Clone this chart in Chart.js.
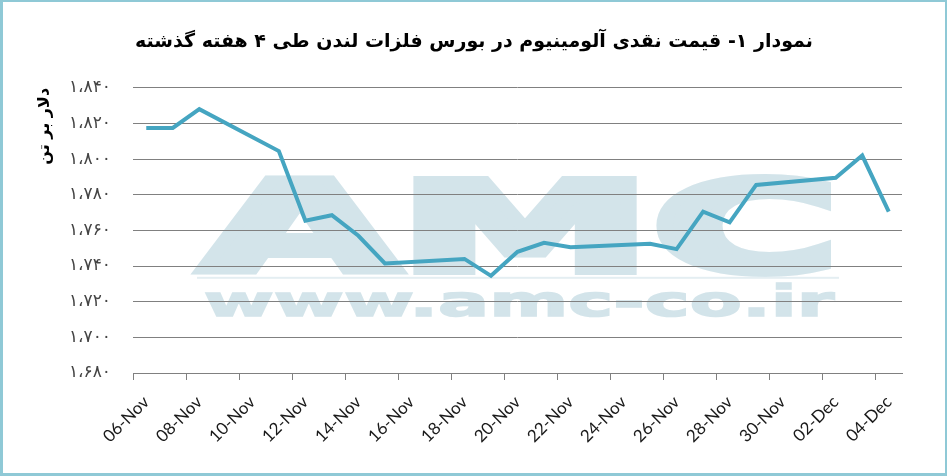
<!DOCTYPE html>
<html>
<head>
<meta charset="utf-8">
<script src="https://cdn.jsdelivr.net/npm/chart.js@4.4.1/dist/chart.umd.min.js"></script>
<style>
  html, body { margin: 0; padding: 0; background: #fff; }
  #wrap {
    width: 947px; height: 476px; box-sizing: border-box;
    border-style: solid; border-color: #8fc9d6;
    border-width: 2px 2px 3px 3px;
    position: relative;
  }
</style>
</head>
<body>
<div id="wrap"><canvas id="myChart"></canvas></div>
<script>
// setup
const days = ['06-Nov', '07-Nov', '08-Nov', '09-Nov', '10-Nov', '11-Nov', '12-Nov', '13-Nov', '14-Nov', '15-Nov',
  '16-Nov', '17-Nov', '18-Nov', '19-Nov', '20-Nov', '21-Nov', '22-Nov', '23-Nov', '24-Nov', '25-Nov',
  '26-Nov', '27-Nov', '28-Nov', '29-Nov', '30-Nov', '01-Dec', '02-Dec', '03-Dec', '04-Dec'];

// cash price, USD per tonne (weekends empty)
const cashPrice = [1817.5, 1817.5, 1828, null, null, 1804.5, 1765.5, 1768.5, 1757, 1741.5,
  null, null, 1744, 1734.5, 1748, 1753, 1750.5, null, null, 1752.5,
  1749.5, 1770.5, 1764.5, 1785.5, null, null, 1789.5, 1802, 1770.5];

const yTickLabels = ['۱،۶۸۰', '۱،۷۰۰', '۱،۷۲۰', '۱،۷۴۰', '۱،۷۶۰', '۱،۷۸۰', '۱،۸۰۰', '۱،۸۲۰', '۱،۸۴۰'];

const chartTitle = 'نمودار ۱- قیمت نقدی آلومینیوم در بورس فلزات لندن طی ۴ هفته گذشته';
const yTitle = 'دلار بر تن';

const gridGray = '#808080';

// draws text stretched to a given width, thickened with a stroke
function wideText(ctx, text, x, y, width, fontSize, stroke) {
  ctx.font = 'bold ' + fontSize + 'px "DejaVu Sans"';
  const w = ctx.measureText(text).width;
  ctx.save();
  ctx.translate(x + stroke / 2, y - stroke / 2);
  ctx.scale((width - stroke) / w, 1);
  ctx.lineWidth = stroke;
  ctx.lineJoin = 'miter';
  ctx.miterLimit = 2.5;
  ctx.fillText(text, 0, 0);
  if (stroke > 0) ctx.strokeText(text, 0, 0);
  ctx.restore();
}

// AMC watermark behind the grid
const watermark = {
  id: 'watermark',
  beforeDraw(chart) {
    const ctx = chart.ctx;
    const ca = chart.chartArea;
    ctx.save();
    ctx.fillStyle = '#d3e4ea';
    ctx.strokeStyle = '#d3e4ea';
    ctx.textBaseline = 'alphabetic';

    wideText(ctx, 'AMC', ca.left + 64, ca.top + 187, 646, 124, 8);

    ctx.fillStyle = '#e4eef2';
    ctx.fillRect(ca.left + 64, ca.top + 189, 642, 2);

    ctx.fillStyle = '#d3e4ea';
    ctx.strokeStyle = '#d3e4ea';
    wideText(ctx, 'www.amc-co.ir', ca.left + 70, ca.top + 229, 632, 43, 1.5);

    ctx.restore();
  }
};

// config
const config = {
  type: 'line',
  data: {
    labels: days,
    datasets: [{
      label: 'قیمت نقدی',
      data: cashPrice,
      borderColor: '#45a5c1',
      borderWidth: 4,
      pointRadius: 0,
      tension: 0,
      spanGaps: true
    }]
  },
  options: {
    responsive: true,
    maintainAspectRatio: false,
    animation: false,
    layout: { padding: 0 },
    plugins: {
      legend: { display: false },
      tooltip: { enabled: false },
      title: {
        display: true,
        text: chartTitle,
        color: '#000',
        font: { family: '"DejaVu Sans"', size: 19, weight: 'bold' },
        padding: { top: 29, bottom: 34 }
      }
    },
    scales: {
      x: {
        offset: true,
        afterFit(s) { s.height = 100; },
        grid: {
          offset: true,
          drawOnChartArea: false,
          drawTicks: true,
          tickLength: 7,
          color: (c) => (c.index % 2 === 0 && c.index < days.length) ? gridGray : 'rgba(0,0,0,0)'
        },
        border: { display: true, color: gridGray, width: 1 },
        ticks: {
          autoSkip: false,
          minRotation: 45,
          maxRotation: 45,
          padding: 12,
          color: '#1a1a1a',
          font: { family: 'Lato', size: 17 },
          callback: (v, i) => (i % 2 === 0 ? days[i] : '')
        }
      },
      y: {
        min: 1680,
        max: 1840,
        afterFit(s) { s.width = 130; },
        grid: { color: gridGray, lineWidth: 1, drawTicks: false },
        border: { display: false },
        ticks: {
          stepSize: 20,
          padding: 22,
          color: '#444',
          font: { family: '"DejaVu Sans"', size: 17 },
          callback: (v) => yTickLabels[Math.round((v - 1680) / 20)]
        },
        title: {
          display: true,
          text: yTitle,
          align: 'end',
          color: '#000',
          font: { family: '"DejaVu Sans"', size: 16, weight: 'bold' },
          padding: { top: 32 }
        }
      },
      // empty right-hand margin so the title centres on the whole frame
      yRight: {
        position: 'right',
        afterFit(s) { s.width = 43; },
        grid: { display: false },
        border: { display: false },
        ticks: { display: false }
      }
    }
  },
  plugins: [watermark]
};

// render init block
const myChart = new Chart(
  document.getElementById('myChart'),
  config
);
</script>
</body>
</html>
